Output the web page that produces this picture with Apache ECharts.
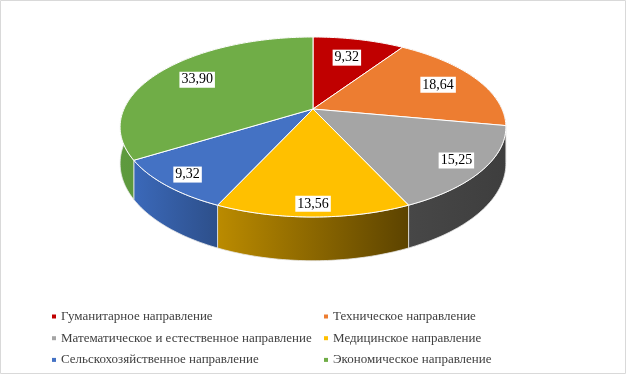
<!DOCTYPE html>
<html>
<head>
<meta charset="utf-8">
<script src="https://cdn.jsdelivr.net/npm/echarts@6/dist/echarts.min.js"></script>
<style>
html,body{margin:0;padding:0;background:#fff}
#chart{width:627px;height:375px}
</style>
</head>
<body>
<div id="chart"></div>
<script>
var categories = [
  'Гуманитарное направление',
  'Техническое направление',
  'Математическое и естественное направление',
  'Медицинское направление',
  'Сельскохозяйственное направление',
  'Экономическое направление'
];
var values = [9.32, 18.64, 15.25, 13.56, 9.32, 33.90];
var colors = ['#C00000', '#ED7D31', '#A5A5A5', '#FFC000', '#4472C4', '#70AD47'];
// side wall shading: [left, right]
var sideColors = [
  ['#9a0000', '#7a0000'],
  ['#b85e20', '#8c4416'],
  ['#474747', '#3e3e3e'],
  ['#bb8b00', '#5c4300'],
  ['#3b69ba', '#2d4f8a'],
  ['#5e9a3e', '#4f8534']
];

var SERIF = "'Liberation Serif', 'Times New Roman', serif";

// pseudo 3d geometry (tilted disc with a bit of perspective)
var CX = 313, CY = 109, RX = 189, RY = 86.4, PERSP = 0.2, DEPTH = 35;

function proj(r, a, down) {
  var u = r * Math.sin(a), v = -r * Math.cos(a);
  var d = 1 - PERSP * v;
  return [CX + RX * u / d, CY + RY * v / d + (down ? DEPTH / d : 0)];
}

var total = values.reduce(function (s, v) { return s + v; }, 0);

function renderItem(params, api) {
  var i = params.dataIndex;
  var start = 0;
  for (var j = 0; j < i; j++) start += values[j];
  var a1 = start / total * Math.PI * 2;
  var a2 = (start + api.value(0)) / total * Math.PI * 2;
  var n = Math.max(2, Math.ceil((a2 - a1) / (Math.PI / 180)));
  var topPts = [], botPts = [];
  for (var k = 0; k <= n; k++) {
    var a = a1 + (a2 - a1) * k / n;
    topPts.push(proj(1, a, false));
    botPts.push(proj(1, a, true));
  }
  var side = topPts.concat(botPts.slice().reverse());
  var face = [[CX, CY]].concat(topPts);
  var mid = (a1 + a2) / 2;
  // labels sit a bit further out on the near side
  var lp = proj(0.8 - 0.1 * Math.cos(mid), mid, false);
  return {
    type: 'group',
    children: [
      {
        type: 'polygon',
        z2: 1,
        shape: { points: side },
        style: {
          fill: {
            type: 'linear', x: 0, y: 0, x2: 1, y2: 0,
            colorStops: [
              { offset: 0, color: sideColors[i][0] },
              { offset: 1, color: sideColors[i][1] }
            ]
          },
          stroke: '#e8e8e8',
          lineWidth: 0.8
        }
      },
      {
        type: 'polygon',
        z2: 5,
        shape: { points: face },
        style: { fill: colors[i], stroke: '#ffffff', lineWidth: 1 }
      },
      {
        type: 'text',
        z2: 10,
        x: lp[0],
        y: lp[1],
        style: {
          text: values[i].toFixed(2).replace('.', ','),
          fill: '#000000',
          fontFamily: SERIF,
          fontSize: 14,
          lineHeight: 14,
          align: 'center',
          verticalAlign: 'middle',
          backgroundColor: '#ffffff',
          padding: [1, 2]
        }
      }
    ]
  };
}

var legendText = { fontFamily: SERIF, fontSize: 13, color: '#404040', lineHeight: 15 };

var chart = echarts.init(document.getElementById('chart'));
chart.setOption({
  animation: false,
  color: colors,
  graphic: [{
    type: 'rect',
    shape: { x: 0.5, y: 0.5, width: 625, height: 373 },
    style: { fill: 'none', stroke: '#d9d9d9', lineWidth: 1 },
    silent: true
  }],
  legend: [
    {
      left: 47, top: 304, orient: 'vertical', itemGap: 6.7,
      itemWidth: 4, itemHeight: 4, icon: 'rect', selectedMode: false,
      textStyle: legendText,
      data: [categories[0], categories[2], categories[4]]
    },
    {
      left: 319, top: 304, orient: 'vertical', itemGap: 6.7,
      itemWidth: 4, itemHeight: 4, icon: 'rect', selectedMode: false,
      textStyle: legendText,
      data: [categories[1], categories[3], categories[5]]
    }
  ],
  series: [
    {
      type: 'custom',
      coordinateSystem: 'none',
      renderItem: renderItem,
      data: values.map(function (v, i) { return { name: categories[i], value: [v] }; })
    },
    {
      // only feeds the legend
      type: 'pie',
      radius: [0, 0],
      center: [-50, -50],
      silent: true,
      label: { show: false },
      labelLine: { show: false },
      data: values.map(function (v, i) {
        return { name: categories[i], value: v, itemStyle: { color: colors[i] } };
      })
    }
  ]
});
</script>
</body>
</html>
